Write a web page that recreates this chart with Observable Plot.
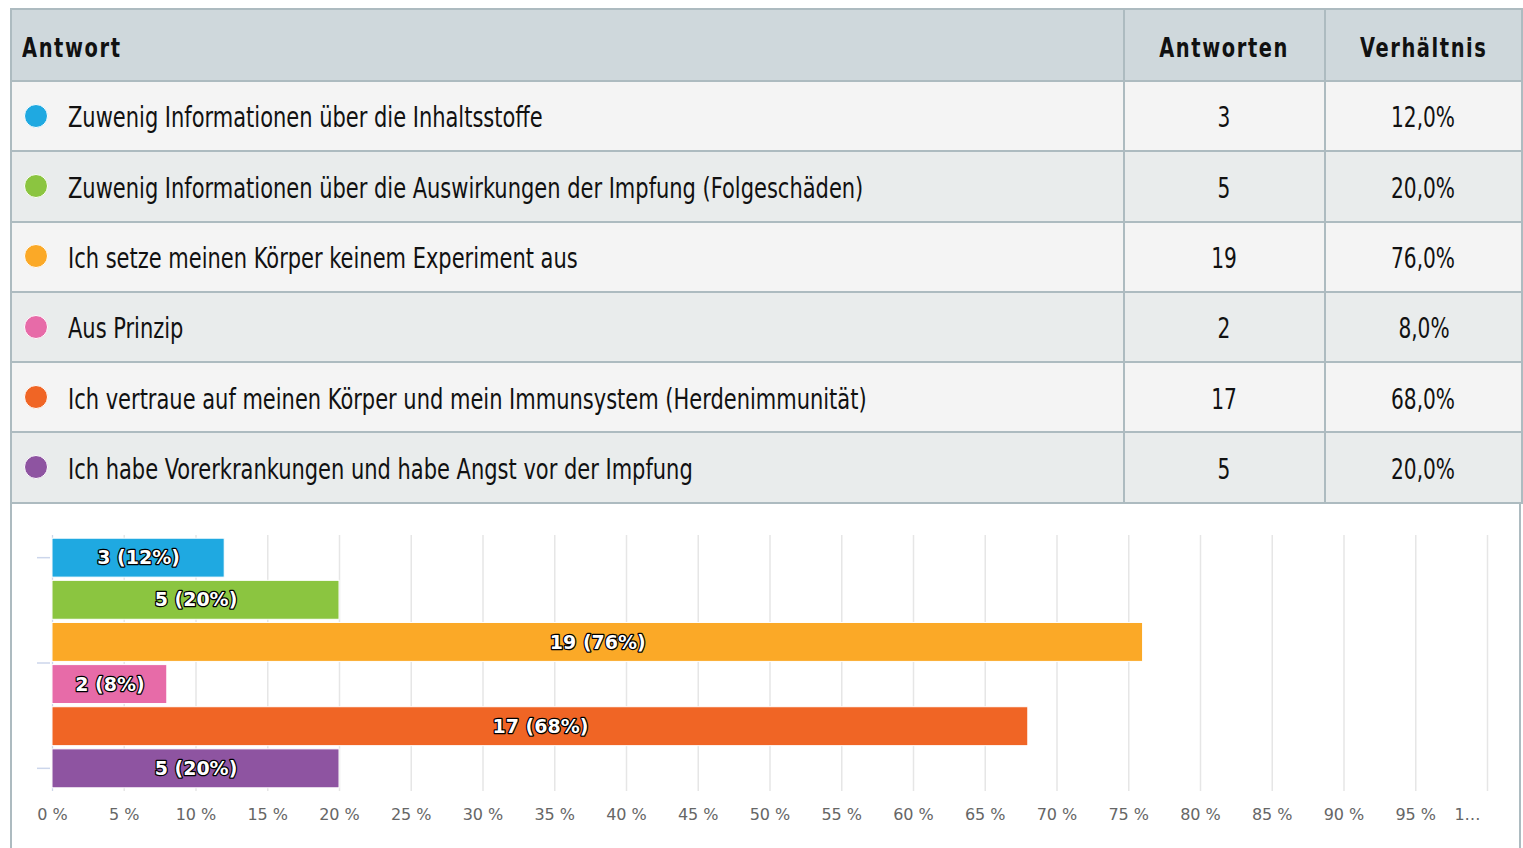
<!DOCTYPE html>
<html>
<head>
<meta charset="utf-8">
<script src="https://cdn.jsdelivr.net/npm/d3@7"></script>
<script src="https://cdn.jsdelivr.net/npm/@observablehq/plot@0.6"></script>
<style>
  html, body { margin: 0; padding: 0; background: #fff; }
  #wrap { position: absolute; left: 10px; top: 8px; width: 1511px; box-sizing: border-box;
          border-left: 2px solid #adbbc0; border-right: 2px solid #adbbc0; height: 850px; }
  table { border-collapse: collapse; width: 1511px; margin-left: -2px; table-layout: fixed;
          font-family: "DejaVu Sans Condensed", "DejaVu Sans", sans-serif; color: #111; }
  td, th { border: 2px solid #adbbc0; padding: 0; white-space: nowrap; }
  th { background: #cfd8dc; height: 70px; font-size: 27px; font-weight: bold; letter-spacing: 2px; }
  th.l { text-align: left; padding-left: 10px; }
  td { height: 68.3px; font-size: 28px; text-align: center; }
  td.l { text-align: left; padding-left: 12px; }
  tr.odd td { background: #f4f4f4; }
  tr.even td { background: #e9ecec; }
  .dot { display: inline-block; width: 24px; height: 24px; border-radius: 50%; box-sizing: border-box;
         border: 1.5px solid #fff; vertical-align: middle; margin-right: 20px; position: relative; top: -1px; }
  .t { display: inline-block; vertical-align: middle; position: relative; top: 1px; }
  .tl { transform: scaleX(0.833); transform-origin: left center; }
  .tc { transform: scaleX(0.80); transform-origin: center center; }
  .th { transform: scaleX(0.8); }
  th.l .th { transform-origin: left center; }
  #chart { display: block; line-height: 0; }
  #chart svg { display: block; }
</style>
</head>
<body>
<div id="wrap">
  <table id="tbl"></table>
  <div id="chart"></div>
</div>
<script>
const headers = ["Antwort", "Antworten", "Verhältnis"];
const answers = [
  "Zuwenig Informationen über die Inhaltsstoffe",
  "Zuwenig Informationen über die Auswirkungen der Impfung (Folgeschäden)",
  "Ich setze meinen Körper keinem Experiment aus",
  "Aus Prinzip",
  "Ich vertraue auf meinen Körper und mein Immunsystem (Herdenimmunität)",
  "Ich habe Vorerkrankungen und habe Angst vor der Impfung"
];
const counts = [3, 5, 19, 2, 17, 5];
const shares = [12, 20, 76, 8, 68, 20];
const shareLabels = ["12,0%", "20,0%", "76,0%", "8,0%", "68,0%", "20,0%"];
const barLabels = ["3 (12%)", "5 (20%)", "19 (76%)", "2 (8%)", "17 (68%)", "5 (20%)"];
const colors = ["#1fa9e1", "#8bc540", "#fba927", "#e76ba8", "#f06525", "#8e54a1"];
const xTicks = [0,5,10,15,20,25,30,35,40,45,50,55,60,65,70,75,80,85,90,95,100];
const xTickLabels = ["0 %","5 %","10 %","15 %","20 %","25 %","30 %","35 %","40 %","45 %","50 %","55 %","60 %","65 %","70 %","75 %","80 %","85 %","90 %","95 %","1…"];

// table
const tbl = document.getElementById("tbl");
const colg = document.createElement("colgroup");
[1113, 201, 197].forEach(w => { const c = document.createElement("col"); c.style.width = w + "px"; colg.appendChild(c); });
tbl.appendChild(colg);
function span(text, cls) { const s = document.createElement("span"); s.className = "t " + cls; s.textContent = text; return s; }
const hr = document.createElement("tr");
headers.forEach((h, i) => { const th = document.createElement("th"); th.appendChild(span(h, "th")); if (i === 0) th.className = "l"; hr.appendChild(th); });
tbl.appendChild(hr);
answers.forEach((a, i) => {
  const tr = document.createElement("tr");
  tr.className = i % 2 === 0 ? "odd" : "even";
  const td0 = document.createElement("td"); td0.className = "l";
  const dot = document.createElement("span"); dot.className = "dot"; dot.style.background = colors[i];
  td0.appendChild(dot); td0.appendChild(span(a, "tl"));
  const td1 = document.createElement("td"); td1.appendChild(span(String(counts[i]), "tc"));
  const td2 = document.createElement("td"); td2.appendChild(span(shareLabels[i], "tc"));
  tr.append(td0, td1, td2);
  tbl.appendChild(tr);
});

// chart
const data = answers.map((a, i) => ({ answer: a, share: shares[i], label: barLabels[i], color: colors[i] }));
const fmt = d => xTickLabels[xTicks.indexOf(d)];
const chart = Plot.plot({
  width: 1507,
  height: 344,
  marginLeft: 40,
  marginRight: 32,
  marginTop: 31,
  marginBottom: 57,
  style: { fontFamily: "DejaVu Sans, sans-serif", background: "#fff", overflow: "visible" },
  x: { domain: [0, 100], ticks: xTicks, tickFormat: fmt },
  y: { domain: answers, padding: 0.076, round: false, axis: null },
  marks: [
    Plot.ruleX(xTicks, { x: d => d, stroke: "#e6e6e6", strokeWidth: 1.5 }),
    Plot.ruleX([0], { stroke: "#ccd6eb", strokeWidth: 1 }),
    Plot.barX(data, { x: "share", y: "answer", fill: "color", stroke: "#fff", strokeWidth: 1 }),
    Plot.text(data, { x: d => d.share / 2, y: "answer", text: "label", fill: "#fff", stroke: "#000",
      strokeWidth: 2.5, paintOrder: "stroke", fontSize: 19, fontWeight: "bold" }),
    (index, scales, values, dims) => {
      const y = scales.y, bw = y.bandwidth();
      const ys = [y(answers[0]) + bw / 2, (y(answers[2]) + bw + y(answers[3])) / 2, y(answers[5]) + bw / 2];
      const g = d3.create("svg:g").attr("stroke", "#ccd6eb").attr("stroke-width", 1.5);
      ys.forEach(v => g.append("line").attr("x1", dims.marginLeft - 15).attr("x2", dims.marginLeft - 2).attr("y1", v).attr("y2", v));
      return g.node();
    },
    Plot.axisX(xTicks.slice(0, -1), { tickSize: 0, tickPadding: 17, fontSize: 16, fill: "#666",
      tickFormat: fmt, label: null }),
    Plot.axisX(xTicks.slice(-1), { tickSize: 0, tickPadding: 17, fontSize: 16, fill: "#666",
      tickFormat: fmt, label: null, dx: -20 })
  ]
});
document.getElementById("chart").appendChild(chart);
</script>
</body>
</html>
